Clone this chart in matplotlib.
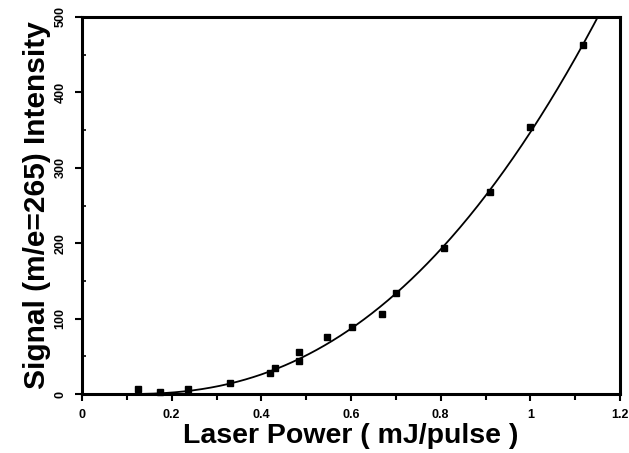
import numpy as np
import matplotlib
matplotlib.use("Agg")
import matplotlib.pyplot as plt
from matplotlib.ticker import MultipleLocator

laser_power = [0.124, 0.173, 0.236, 0.331, 0.420, 0.431, 0.484, 0.484,
               0.547, 0.602, 0.669, 0.700, 0.807, 0.911, 1.000, 1.118]
signal = [6.6, 2.5, 6.6, 14.6, 28, 34, 44, 56,
          76, 89, 106, 134, 193, 268, 354, 463]

xticks = [0, 0.2, 0.4, 0.6, 0.8, 1.0, 1.2]
xticklabels = ["0", "0.2", "0.4", "0.6", "0.8", "1", "1.2"]
yticks = [0, 100, 200, 300, 400, 500]
yticklabels = ["0", "100", "200", "300", "400", "500"]

plt.rcParams['font.family'] = ['Liberation Sans', 'DejaVu Sans']

fig = plt.figure(figsize=(6.29, 4.53), dpi=100)
ax = fig.add_axes([0.1304, 0.1302, 0.8553, 0.8323])

# power-law fit  y = a (x - x0)^n  (least squares, grid search)
xd = np.asarray(laser_power)
yd = np.asarray(signal)
best = None
for x0 in np.linspace(0.10, 0.16, 61):
    for n in np.linspace(1.8, 3.5, 171):
        g = np.clip(xd - x0, 0, None) ** n
        a = (g @ yd) / (g @ g)
        err = np.sum((a * g - yd) ** 2)
        if best is None or err < best[0]:
            best = (err, x0, n, a)
_, x0, n, a = best
xf = np.linspace(x0, 1.2, 500)
yf = a * (xf - x0) ** n
mask = yf <= 500
ax.plot(xf[mask], yf[mask], color='black', lw=1.3)

ax.plot(laser_power, signal, 's', color='black', ms=4.5, clip_on=False)

ax.set_xlim(0, 1.2)
ax.set_ylim(0, 500)
ax.set_xticks(xticks)
ax.set_xticklabels(xticklabels, fontsize=9, fontweight='bold')
ax.set_yticks(yticks)
ax.set_yticklabels(yticklabels, fontsize=9, fontweight='bold', rotation=90, va='center')
ax.xaxis.set_minor_locator(MultipleLocator(0.1))
ax.yaxis.set_minor_locator(MultipleLocator(50))
ax.tick_params(axis='both', which='major', direction='out', length=5, width=1.5, pad=6)
ax.tick_params(axis='x', which='minor', direction='out', length=4, width=1.5)
ax.tick_params(axis='y', which='minor', direction='in', length=3, width=1.2)
for s in ax.spines.values():
    s.set_linewidth(2.2)

ax.set_xlabel("Laser Power ( mJ/pulse )", fontsize=20.5, fontweight='bold', labelpad=1)
ax.set_ylabel("Signal (m/e=265) Intensity", fontsize=21.5, fontweight='bold', labelpad=3)

fig.savefig("out.png", dpi=100)
